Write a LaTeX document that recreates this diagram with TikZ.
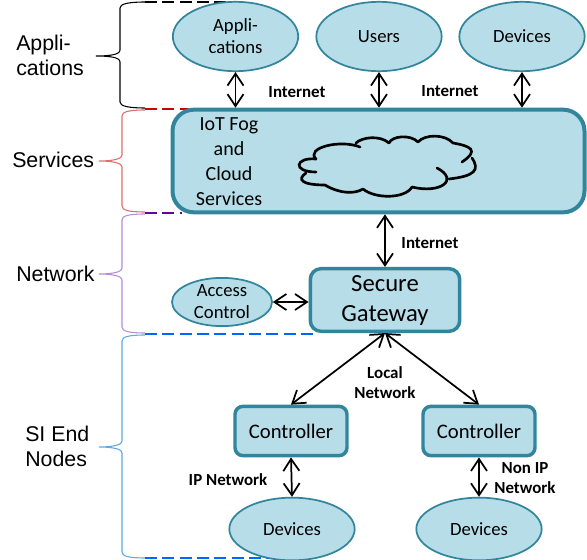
\documentclass[tikz,border=0pt]{standalone}
\usepackage{fontspec}
\setmainfont{Carlito}
\newfontfamily\arialfont{Liberation Sans}
\usetikzlibrary{arrows.meta,shapes.geometric}
\definecolor{tealfill}{HTML}{B7DDE8}
\definecolor{tealline}{HTML}{31859C}
\definecolor{bracered}{HTML}{E06C6C}
\definecolor{bracepurple}{HTML}{B48CD8}
\definecolor{braceblue}{HTML}{5FA8E0}
\tikzset{
  cloudbox/.style={draw=tealline, fill=tealfill, rounded corners=16pt, line width=3pt, minimum width=309pt, minimum height=77pt},
  gatewaybox/.style={draw=tealline, fill=tealfill, rounded corners=8pt, line width=2.6pt, align=center, minimum width=112pt, minimum height=47pt, inner sep=0pt, font=\fontsize{18.5}{22.5}\selectfont},
  ctrlbox/.style={draw=tealline, fill=tealfill, rounded corners=6pt, line width=2.6pt, align=center, minimum width=84pt, minimum height=37pt, inner sep=0pt, font=\fontsize{15.5}{19}\selectfont},
  roundnode/.style={ellipse, draw=tealline, fill=tealfill, line width=1.3pt, align=center, inner sep=0pt, font=\fontsize{14}{16.5}\selectfont},
  layerlabel/.style={align=left, inner sep=0pt, font=\arialfont\fontsize{16}{18.9}\selectfont},
  linklabel/.style={align=center, inner sep=0pt, font=\bfseries\fontsize{12.7}{15}\selectfont},
  linkarrow/.style={{Straight Barb[length=9pt,width=12pt]}-{Straight Barb[length=9pt,width=12pt]}, line width=1.3pt},
  bracketline/.style={line width=0.8pt},
  dashline/.style={line width=1.1pt, dash pattern=on 9pt off 4pt}
}
\begin{document}
\begin{tikzpicture}[x=0.75pt,y=-0.75pt]
\useasboundingbox (0,0) rectangle (587,560);
% layer brackets
\foreach \topy/\tipx/\tipy/\boty/\spine/\shade in {2/96/56/108/120/black,110/99/161/212/122/bracered,214/99/274/333/122/bracepurple,335/99/447/558/122/braceblue}{
  \draw[bracketline,\shade] (145,\topy) .. controls (128,\topy) and (\spine,\topy+2) .. (\spine,\topy+6)
    -- (\spine,\tipy-6) .. controls (\spine,\tipy-1) and (108,\tipy) .. (\tipx,\tipy)
    .. controls (108,\tipy) and (\spine,\tipy+1) .. (\spine,\tipy+6)
    -- (\spine,\boty-6) .. controls (\spine,\boty-2) and (128,\boty) .. (145,\boty);
}
\draw[dashline,black] (145,2) -- (235,2);
\draw[dashline,red!80!black] (145,109) -- (190,109);
\draw[dashline,violet!80!blue] (145,213) -- (182,213);
\draw[dashline,blue!60!cyan] (145,334) -- (318,334);
\draw[dashline,blue!60!cyan] (145,558) -- (300,558);
\node[layerlabel,anchor=west] (appslabel) at (16,55) {Appli-\\cations};
\node[layerlabel,anchor=west] (serviceslabel) at (12,160) {Services};
\node[layerlabel,anchor=west] (networklabel) at (16,274) {Network};
\node[layerlabel,anchor=west] (endlabel) at (25,446) {SI End\\Nodes};
% top row
\node[roundnode,minimum width=94pt,minimum height=52pt] (apps) at (235.5,36.5) {Appli-\\cations};
\node[roundnode,minimum width=94pt,minimum height=52pt] (users) at (379,36.5) {Users};
\node[roundnode,minimum width=94pt,minimum height=52pt] (topdevices) at (522,36.5) {Devices};
% services
\node[cloudbox] (fog) at (378.5,161) {};
\node[align=center,inner sep=0pt,font=\fontsize{15}{18.7}\selectfont] (fogtext) at (229,162) {IoT Fog\\and\\Cloud\\Services};
\draw[line width=2pt,line cap=round]
  (360,147) .. controls (340,139) and (305,148) .. (316,159)
  (316,159) .. controls (295,157) and (292,172) .. (316,172)
  (306,173) .. controls (296,180) and (303,185) .. (325,185)
  (325,185) .. controls (340,194) and (355,194) .. (363,189)
  (363,189) .. controls (375,199) and (405,199) .. (412,187)
  (412,187) .. controls (440,194) and (460,180) .. (437,168)
  (449,179) .. controls (475,176) and (480,170) .. (472,158)
  (462,162) .. controls (480,150) and (470,146) .. (453,143)
  (453,143) .. controls (445,134) and (425,134) .. (418,142)
  (418,142) .. controls (410,134) and (392,136) .. (389,143)
  (389,143) .. controls (380,135) and (362,137) .. (356,143);
% network
\node[gatewaybox] (gateway) at (385,300) {\raisebox{-2.5pt}{Secure}\\\raisebox{-2.5pt}{Gateway}};
\node[roundnode,minimum width=75pt,minimum height=36pt] (access) at (222,302) {Access\\Control};
% end nodes
\node[ctrlbox] (leftctrl) at (291,431) {Controller};
\node[ctrlbox] (rightctrl) at (479,431) {Controller};
\node[roundnode,minimum width=94pt,minimum height=47pt] (leftdevices) at (292,529) {Devices};
\node[roundnode,minimum width=94pt,minimum height=47pt] (rightdevices) at (479,529) {Devices};
% links
\draw[linkarrow] (apps.south) -- (apps.south |- fog.north);
\draw[linkarrow] (users.south) -- (users.south |- fog.north);
\draw[linkarrow] (topdevices.south) -- (topdevices.south |- fog.north);
\draw[linkarrow] (gateway.north) -- (gateway.north |- fog.south);
\draw[linkarrow] (access.east) -- (gateway.west |- access.east);
\draw[linkarrow] (gateway.south) -- (leftctrl.north);
\draw[linkarrow] (gateway.south) -- (rightctrl.north);
\draw[linkarrow] (leftctrl.south) -- (leftdevices.north);
\draw[linkarrow] (rightctrl.south) -- (rightdevices.north);
\node[linklabel] (netone) at (297,92) {Internet};
\node[linklabel] (nettwo) at (450,91) {Internet};
\node[linklabel] (netthree) at (430,243) {Internet};
\node[linklabel] (localnet) at (385,383) {Local\\Network};
\node[linklabel] (ipnet) at (228,480) {IP Network};
\node[linklabel] (nonipnet) at (525,478) {Non IP\\Network};
\end{tikzpicture}
\end{document}
